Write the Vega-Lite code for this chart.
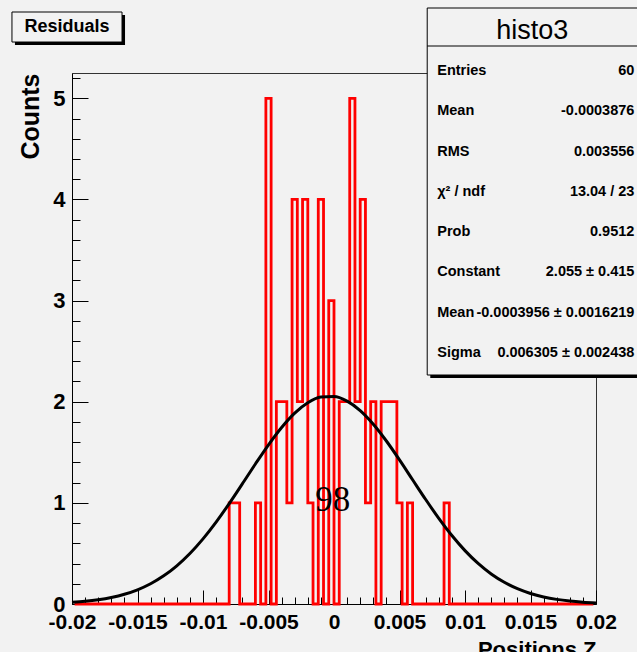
{
  "$schema": "https://vega.github.io/schema/vega-lite/v6.json",
  "autosize": {"type": "none"},
  "width": 524,
  "height": 531,
  "padding": {"left": 72, "top": 73, "right": 41, "bottom": 48},
  "background": "#f2f2f2",
  "config": {
    "view": {"stroke": "#333333", "strokeWidth": 1},
    "font": "Liberation Sans, sans-serif",
    "axis": {"labelOverlap": false}
  },
  "datasets": {
    "hist": [
      {"x": -0.0198, "count": 0}, {"x": -0.0194, "count": 0}, {"x": -0.019, "count": 0}, {"x": -0.0186, "count": 0},
      {"x": -0.0182, "count": 0}, {"x": -0.0178, "count": 0}, {"x": -0.0174, "count": 0}, {"x": -0.017, "count": 0},
      {"x": -0.0166, "count": 0}, {"x": -0.0162, "count": 0}, {"x": -0.0158, "count": 0}, {"x": -0.0154, "count": 0},
      {"x": -0.015, "count": 0}, {"x": -0.0146, "count": 0}, {"x": -0.0142, "count": 0}, {"x": -0.0138, "count": 0},
      {"x": -0.0134, "count": 0}, {"x": -0.013, "count": 0}, {"x": -0.0126, "count": 0}, {"x": -0.0122, "count": 0},
      {"x": -0.0118, "count": 0}, {"x": -0.0114, "count": 0}, {"x": -0.011, "count": 0}, {"x": -0.0106, "count": 0},
      {"x": -0.0102, "count": 0}, {"x": -0.0098, "count": 0}, {"x": -0.0094, "count": 0}, {"x": -0.009, "count": 0},
      {"x": -0.0086, "count": 0}, {"x": -0.0082, "count": 0}, {"x": -0.0078, "count": 1}, {"x": -0.0074, "count": 1},
      {"x": -0.007, "count": 0}, {"x": -0.0066, "count": 0}, {"x": -0.0062, "count": 0}, {"x": -0.0058, "count": 1},
      {"x": -0.0054, "count": 0}, {"x": -0.005, "count": 5}, {"x": -0.0046, "count": 0}, {"x": -0.0042, "count": 2},
      {"x": -0.0038, "count": 2}, {"x": -0.0034, "count": 1}, {"x": -0.003, "count": 4}, {"x": -0.0026, "count": 2},
      {"x": -0.0022, "count": 4}, {"x": -0.0018, "count": 1}, {"x": -0.0014, "count": 0}, {"x": -0.001, "count": 4},
      {"x": -0.0006, "count": 0}, {"x": -0.0002, "count": 3}, {"x": 0.0002, "count": 0}, {"x": 0.0006, "count": 2},
      {"x": 0.001, "count": 2}, {"x": 0.0014, "count": 5}, {"x": 0.0018, "count": 2}, {"x": 0.0022, "count": 4},
      {"x": 0.0026, "count": 1}, {"x": 0.003, "count": 2}, {"x": 0.0034, "count": 0}, {"x": 0.0038, "count": 2},
      {"x": 0.0042, "count": 2}, {"x": 0.0046, "count": 2}, {"x": 0.005, "count": 1}, {"x": 0.0054, "count": 0},
      {"x": 0.0058, "count": 1}, {"x": 0.0062, "count": 0}, {"x": 0.0066, "count": 0}, {"x": 0.007, "count": 0},
      {"x": 0.0074, "count": 0}, {"x": 0.0078, "count": 0}, {"x": 0.0082, "count": 0}, {"x": 0.0086, "count": 1},
      {"x": 0.009, "count": 0}, {"x": 0.0094, "count": 0}, {"x": 0.0098, "count": 0}, {"x": 0.0102, "count": 0},
      {"x": 0.0106, "count": 0}, {"x": 0.011, "count": 0}, {"x": 0.0114, "count": 0}, {"x": 0.0118, "count": 0},
      {"x": 0.0122, "count": 0}, {"x": 0.0126, "count": 0}, {"x": 0.013, "count": 0}, {"x": 0.0134, "count": 0},
      {"x": 0.0138, "count": 0}, {"x": 0.0142, "count": 0}, {"x": 0.0146, "count": 0}, {"x": 0.015, "count": 0},
      {"x": 0.0154, "count": 0}, {"x": 0.0158, "count": 0}, {"x": 0.0162, "count": 0}, {"x": 0.0166, "count": 0},
      {"x": 0.017, "count": 0}, {"x": 0.0174, "count": 0}, {"x": 0.0178, "count": 0}, {"x": 0.0182, "count": 0},
      {"x": 0.0186, "count": 0}, {"x": 0.019, "count": 0}, {"x": 0.0194, "count": 0}, {"x": 0.0198, "count": 0}
    ],
    "fit": [
      {"x": -0.02, "f": 0.0164}, {"x": -0.019, "f": 0.0264}, {"x": -0.018, "f": 0.0417}, {"x": -0.017, "f": 0.0641},
      {"x": -0.016, "f": 0.0961}, {"x": -0.015, "f": 0.1405}, {"x": -0.014, "f": 0.2003}, {"x": -0.013, "f": 0.2786},
      {"x": -0.012, "f": 0.3778}, {"x": -0.011, "f": 0.4995}, {"x": -0.01, "f": 0.6441}, {"x": -0.009, "f": 0.8099},
      {"x": -0.008, "f": 0.9929}, {"x": -0.007, "f": 1.1873}, {"x": -0.006, "f": 1.3843}, {"x": -0.005, "f": 1.574},
      {"x": -0.004, "f": 1.7452}, {"x": -0.003, "f": 1.887}, {"x": -0.002, "f": 1.9895}, {"x": -0.001, "f": 2.0456},
      {"x": 0, "f": 2.051}, {"x": 0.001, "f": 2.0053}, {"x": 0.002, "f": 1.9119}, {"x": 0.003, "f": 1.7776},
      {"x": 0.004, "f": 1.6117}, {"x": 0.005, "f": 1.4249}, {"x": 0.006, "f": 1.2285}, {"x": 0.007, "f": 1.0329},
      {"x": 0.008, "f": 0.8468}, {"x": 0.009, "f": 0.677}, {"x": 0.01, "f": 0.5279}, {"x": 0.011, "f": 0.4013},
      {"x": 0.012, "f": 0.2975}, {"x": 0.013, "f": 0.2151}, {"x": 0.014, "f": 0.1516}, {"x": 0.015, "f": 0.1043},
      {"x": 0.016, "f": 0.0699}, {"x": 0.017, "f": 0.0457}, {"x": 0.018, "f": 0.0291}, {"x": 0.019, "f": 0.0181},
      {"x": 0.02, "f": 0.011}
    ],
    "stats": [
      {"row": 1, "label": "Entries", "value": "60"},
      {"row": 2, "label": "Mean", "value": "-0.0003876"},
      {"row": 3, "label": "RMS", "value": "0.003556"},
      {"row": 4, "label": "χ² / ndf", "value": "13.04 / 23"},
      {"row": 5, "label": "Prob", "value": "0.9512"},
      {"row": 6, "label": "Constant", "value": "2.055 ± 0.415"},
      {"row": 7, "label": "Mean", "value": "-0.0003956 ± 0.0016219"},
      {"row": 8, "label": "Sigma", "value": "0.006305 ± 0.002438"}
    ]
  },
  "layer": [
    {
      "layer": [
        {
          "data": {"name": "hist"},
          "mark": {"type": "line", "interpolate": "step", "color": "#ff0000", "strokeWidth": 2.8, "clip": false},
          "encoding": {
            "x": {
              "field": "x", "type": "quantitative",
              "scale": {"domain": [-0.02, 0.02], "nice": false, "zero": false},
              "axis": {
                "orient": "bottom",
                "values": [-0.02, -0.015, -0.01, -0.005, 0, 0.005, 0.01, 0.015, 0.02],
                "labelExpr": "replace(format(datum.value, '~g'), '\u2212', '-')",
                "grid": false,
                "domainColor": "#000000",
                "tickColor": "#000000",
                "tickSize": -14,
                "labelFont": "Liberation Sans, sans-serif",
                "labelFontSize": 21,
                "labelFontWeight": "bold",
                "labelColor": "#000000",
                "labelPadding": 21,
                "labelFlush": false,
                "labelOverlap": false,
                "labelBound": false,
                "title": "Positions Z",
                "titleFont": "Liberation Sans, sans-serif",
                "titleFontSize": 22,
                "titleFontWeight": "bold",
                "titleColor": "#000000",
                "titleAnchor": "end",
                "titlePadding": 7
              }
            },
            "y": {
              "field": "count", "type": "quantitative",
              "scale": {"domain": [0, 5.25], "nice": false, "zero": true},
              "axis": {
                "orient": "left",
                "values": [0, 1, 2, 3, 4, 5],
                "format": "d",
                "grid": false,
                "domainColor": "#000000",
                "tickColor": "#000000",
                "tickSize": -16,
                "labelFont": "Liberation Sans, sans-serif",
                "labelFontSize": 22,
                "labelFontWeight": "bold",
                "labelColor": "#000000",
                "labelPadding": 23,
                "labelOverlap": false,
                "labelBound": false,
                "title": "Counts",
                "titleFont": "Liberation Sans, sans-serif",
                "titleFontSize": 25,
                "titleFontWeight": "bold",
                "titleColor": "#000000",
                "titleAnchor": "end",
                "titlePadding": 9
              }
            }
          }
        },
        {
          "data": {"name": "fit"},
          "mark": {"type": "line", "interpolate": "monotone", "color": "#000000", "strokeWidth": 3, "clip": false},
          "encoding": {
            "x": {
              "field": "x", "type": "quantitative",
              "axis": {
                "orient": "bottom",
                "values": [-0.019, -0.018, -0.017, -0.016, -0.014, -0.013, -0.012, -0.011, -0.009, -0.008, -0.007, -0.006, -0.004, -0.003, -0.002, -0.001, 0.001, 0.002, 0.003, 0.004, 0.006, 0.007, 0.008, 0.009, 0.011, 0.012, 0.013, 0.014, 0.016, 0.017, 0.018, 0.019],
                "labels": false, "domain": false, "grid": false,
                "tickSize": -7, "tickColor": "#000000", "title": null
              }
            },
            "y": {
              "field": "f", "type": "quantitative",
              "axis": {
                "orient": "left",
                "values": [0.2, 0.4, 0.6, 0.8, 1.2, 1.4, 1.6, 1.8, 2.2, 2.4, 2.6, 2.8, 3.2, 3.4, 3.6, 3.8, 4.2, 4.4, 4.6, 4.8, 5.2],
                "labels": false, "domain": false, "grid": false,
                "tickSize": -8, "tickColor": "#000000", "title": null
              }
            }
          }
        },
        {
          "data": {"values": [{}]},
          "mark": {"type": "text", "font": "Liberation Serif, DejaVu Serif, serif", "fontSize": 35, "align": "center", "baseline": "middle", "color": "#000000"},
          "encoding": {
            "x": {"datum": -0.0001, "type": "quantitative", "axis": null},
            "y": {"datum": 1.03, "type": "quantitative", "axis": null},
            "text": {"value": "98"}
          }
        }
      ],
      "resolve": {"axis": {"x": "independent", "y": "independent"}}
    },
    {
      "layer": [
        {
          "data": {"values": [{}]},
          "mark": {"type": "rect", "fill": "#000000"},
          "encoding": {
            "x": {"datum": 0.00735, "type": "quantitative", "scale": {"domain": [-0.02, 0.02], "nice": false, "zero": false}, "axis": null},
            "x2": {"datum": 0.026},
            "y": {"datum": -0.49, "type": "quantitative", "scale": {"domain": [1.05, 14.23], "reverse": true, "nice": false, "zero": false}, "axis": null},
            "y2": {"datum": 8.62}
          }
        },
        {
          "data": {"values": [{}]},
          "mark": {"type": "rect", "fill": "#f2f2f2", "stroke": "#000000", "strokeWidth": 1},
          "encoding": {
            "x": {"datum": 0.007115, "type": "quantitative", "axis": null},
            "x2": {"datum": 0.026},
            "y": {"datum": -0.563, "type": "quantitative", "axis": null},
            "y2": {"datum": 8.546}
          }
        },
        {
          "data": {"values": [{}]},
          "mark": {"type": "rule", "color": "#000000", "strokeWidth": 1},
          "encoding": {
            "x": {"datum": 0.007115, "type": "quantitative", "axis": null},
            "x2": {"datum": 0.026},
            "y": {"datum": 0.38, "type": "quantitative", "axis": null}
          }
        },
        {
          "data": {"values": [{}]},
          "mark": {"type": "text", "fontSize": 27, "align": "center", "baseline": "middle", "color": "#000000"},
          "encoding": {
            "x": {"datum": 0.01514, "type": "quantitative", "axis": null},
            "y": {"datum": 0, "type": "quantitative", "axis": null},
            "text": {"value": "histo3"}
          }
        },
        {
          "data": {"name": "stats"},
          "mark": {"type": "text", "fontSize": 14.5, "fontWeight": "bold", "align": "left", "baseline": "middle", "color": "#000000"},
          "encoding": {
            "x": {"datum": 0.00788, "type": "quantitative", "axis": null},
            "y": {"field": "row", "type": "quantitative", "axis": null},
            "text": {"field": "label"}
          }
        },
        {
          "data": {"name": "stats"},
          "mark": {"type": "text", "fontSize": 14.5, "fontWeight": "bold", "align": "right", "baseline": "middle", "color": "#000000"},
          "encoding": {
            "x": {"datum": 0.02293, "type": "quantitative", "axis": null},
            "y": {"field": "row", "type": "quantitative", "axis": null},
            "text": {"field": "value"}
          }
        },
        {
          "data": {"values": [{}]},
          "mark": {"type": "rect", "fill": "#000000"},
          "encoding": {
            "x": {"datum": -0.024354, "type": "quantitative", "axis": null},
            "x2": {"datum": -0.015952},
            "y": {"datum": -0.39, "type": "quantitative", "axis": null},
            "y2": {"datum": 0.355}
          }
        },
        {
          "data": {"values": [{}]},
          "mark": {"type": "rect", "fill": "#f2f2f2", "stroke": "#000000", "strokeWidth": 1},
          "encoding": {
            "x": {"datum": -0.024583, "type": "quantitative", "axis": null},
            "x2": {"datum": -0.016181},
            "y": {"datum": -0.464, "type": "quantitative", "axis": null},
            "y2": {"datum": 0.281}
          }
        },
        {
          "data": {"values": [{}]},
          "mark": {"type": "text", "fontSize": 18, "fontWeight": "bold", "align": "center", "baseline": "middle", "color": "#000000"},
          "encoding": {
            "x": {"datum": -0.020382, "type": "quantitative", "axis": null},
            "y": {"datum": -0.092, "type": "quantitative", "axis": null},
            "text": {"value": "Residuals"}
          }
        }
      ]
    }
  ],
  "resolve": {"scale": {"y": "independent"}, "axis": {"x": "independent", "y": "independent"}}
}
